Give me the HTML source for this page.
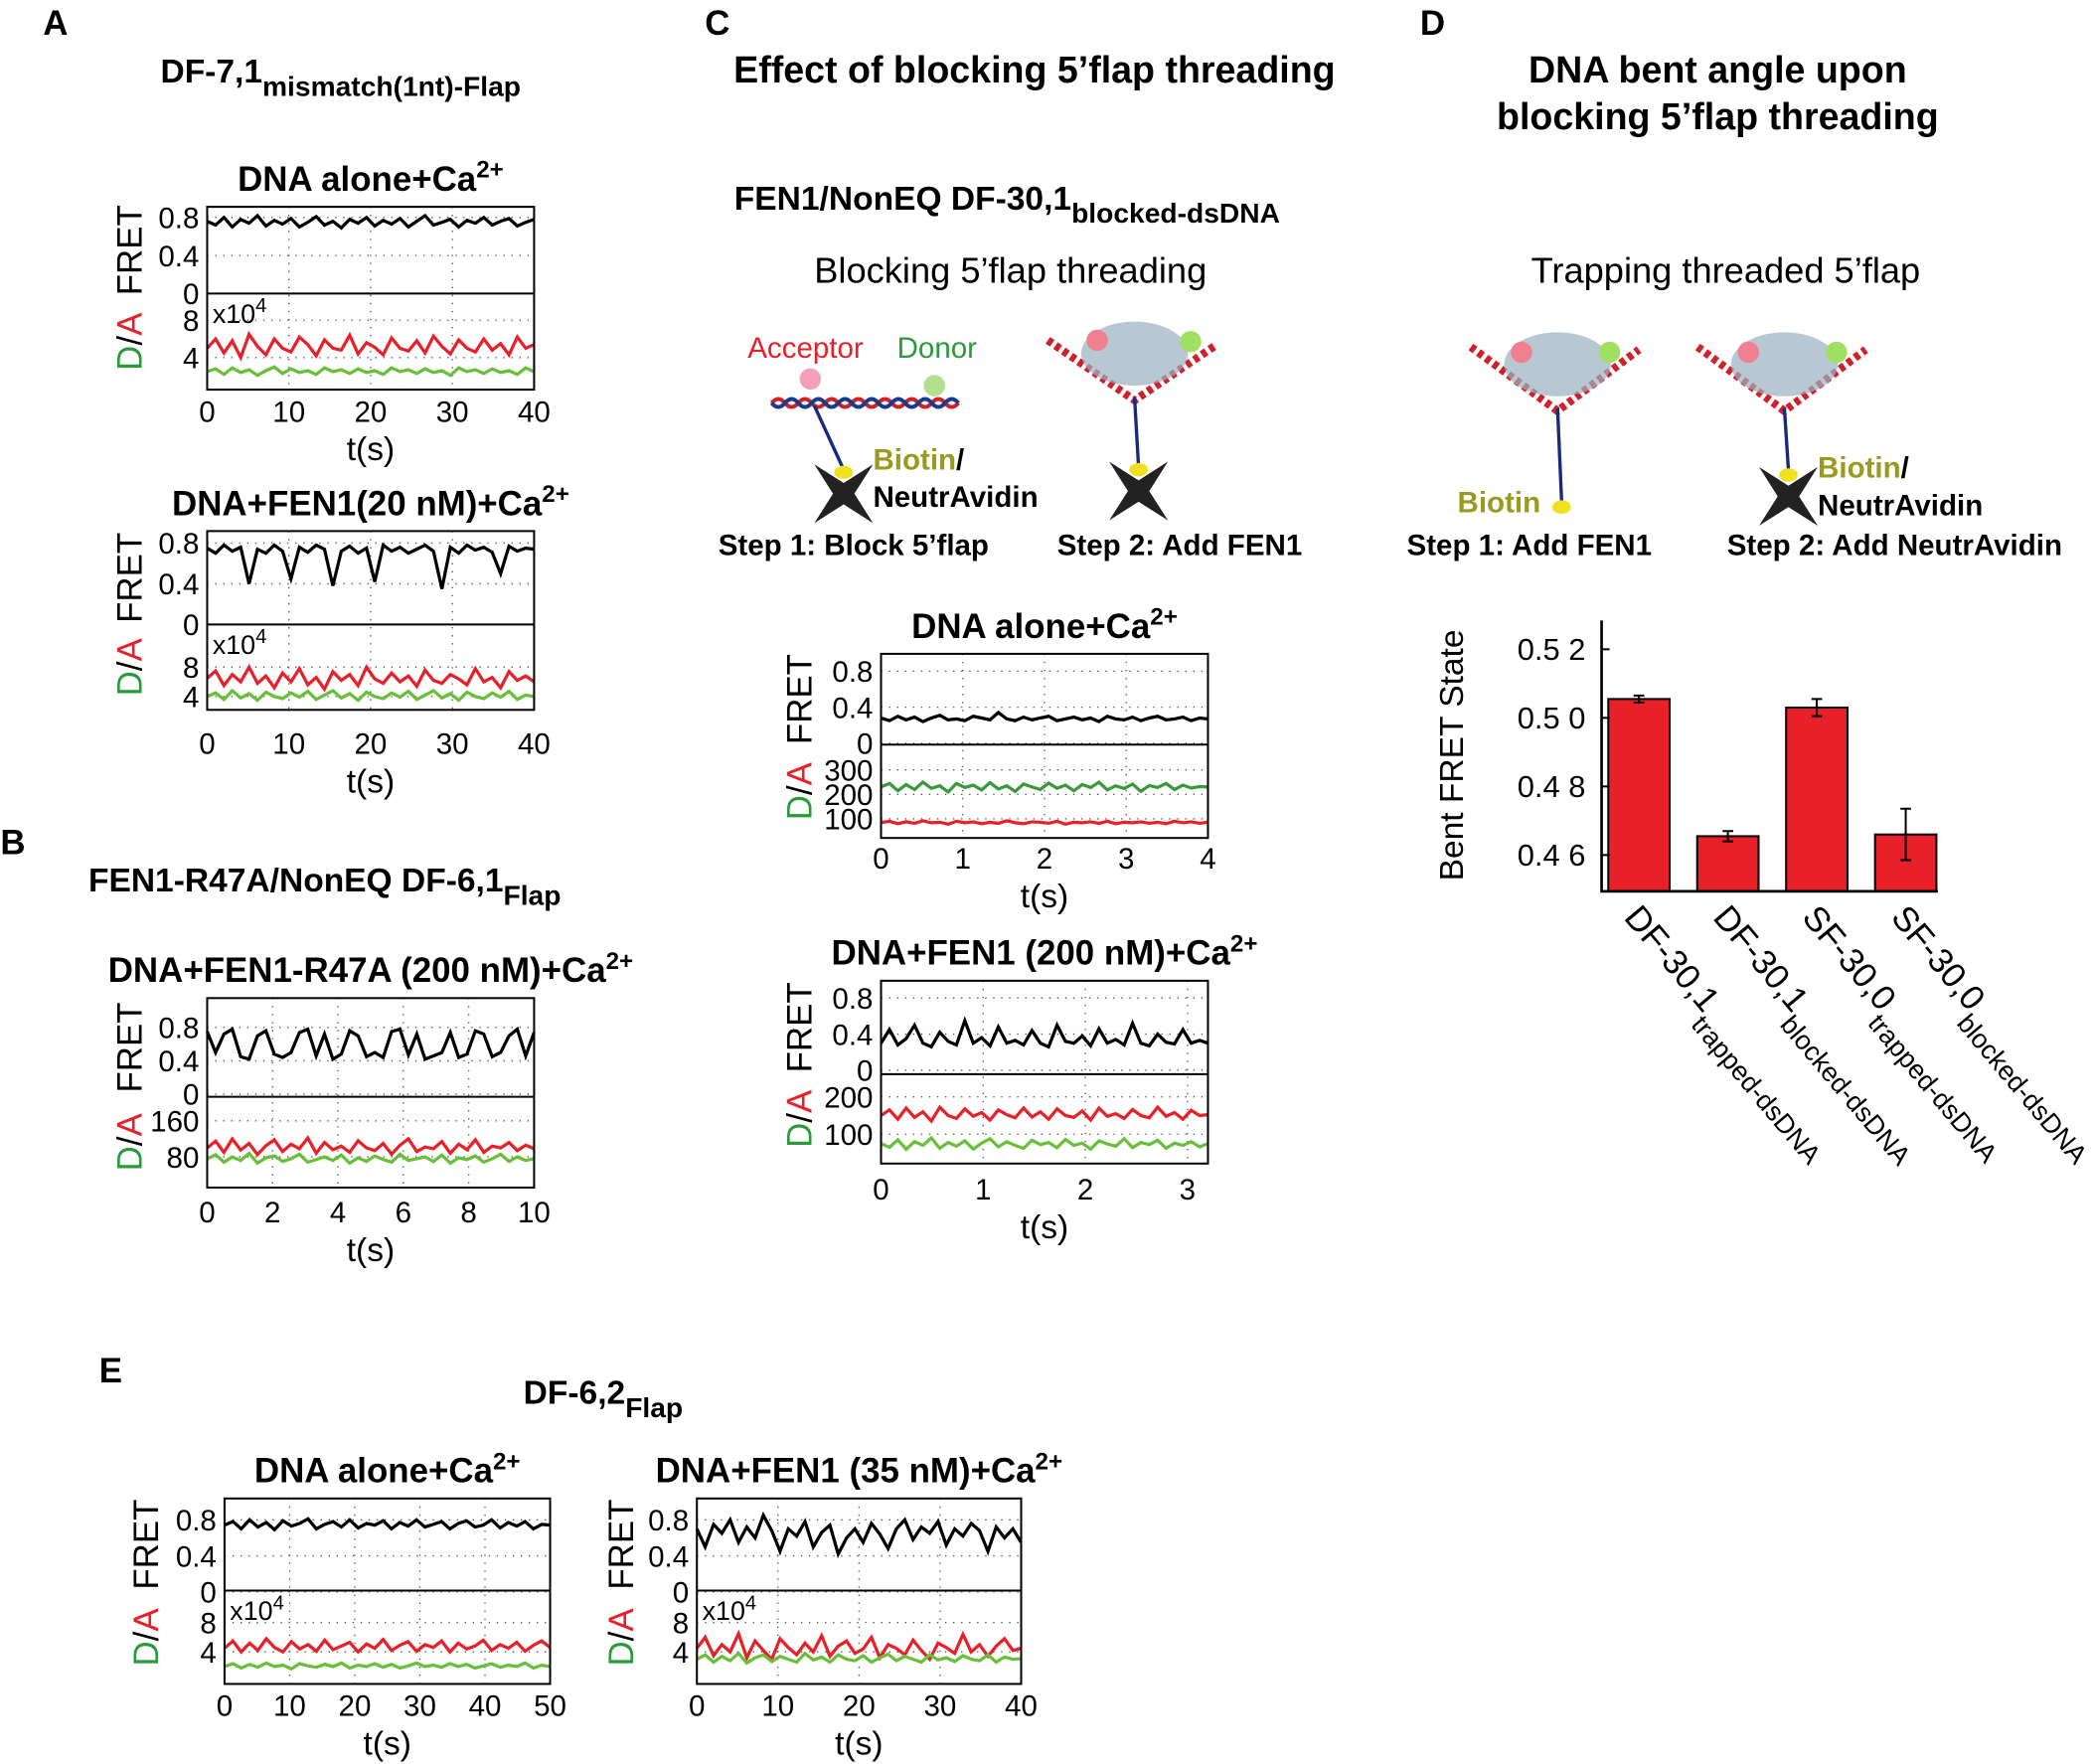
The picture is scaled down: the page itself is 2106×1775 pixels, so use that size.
<!DOCTYPE html>
<html><head><meta charset="utf-8"><style>
html,body{margin:0;padding:0;background:#fff}
svg{display:block}
text{font-family:"Liberation Sans",Arial,sans-serif}
.b{font-weight:bold}
</style></head><body>
<svg id="fig" width="2106" height="1775" viewBox="0 0 1568 1322" xmlns="http://www.w3.org/2000/svg">
<g id="static">
<text x="32" y="26" font-size="26" class="b">A</text>
<text x="0" y="640" font-size="26" class="b">B</text>
<text x="528" y="26" font-size="26" class="b">C</text>
<text x="1064" y="26" font-size="26" class="b">D</text>
<text x="74" y="1036" font-size="26" class="b">E</text>
<text x="120" y="62" font-size="25" class="b">DF-7,1<tspan font-size="21" dy="10">mismatch(1nt)-Flap</tspan></text>
<text x="66" y="668" font-size="25" class="b">FEN1-R47A/NonEQ DF-6,1<tspan font-size="21" dy="10">Flap</tspan></text>
<text x="775" y="62" font-size="28" class="b" text-anchor="middle">Effect of blocking 5’flap threading</text>
<text x="1287" y="62" font-size="28" class="b" text-anchor="middle">DNA bent angle upon</text>
<text x="1287" y="97" font-size="28" class="b" text-anchor="middle">blocking 5’flap threading</text>
<text x="550" y="157" font-size="25" class="b">FEN1/NonEQ DF-30,1<tspan font-size="21" dy="10">blocked-dsDNA</tspan></text>
<text x="757" y="212" font-size="27" text-anchor="middle">Blocking 5’flap threading</text>
<text x="1293" y="212" font-size="27" text-anchor="middle">Trapping threaded 5’flap</text>
<text x="392" y="1052" font-size="25" class="b">DF-6,2<tspan font-size="21" dy="10">Flap</tspan></text>
<g>
<text x="560" y="268" font-size="22" fill="#e8202a">Acceptor</text>
<text x="672" y="268" font-size="22" fill="#2a9a3a">Donor</text>
<path d="M578 302 q5 -6 10 0 q5 6 10 0 q5 -6 10 0 q5 6 10 0 q5 -6 10 0 q5 6 10 0 q5 -6 10 0 q5 6 10 0 q5 -6 10 0 q5 6 10 0 q5 -6 10 0 q5 6 10 0 q5 -6 10 0 q5 6 10 0" fill="none" stroke="#d0202a" stroke-width="3"/>
<path d="M578 302 q5 6 10 0 q5 -6 10 0 q5 6 10 0 q5 -6 10 0 q5 6 10 0 q5 -6 10 0 q5 6 10 0 q5 -6 10 0 q5 6 10 0 q5 -6 10 0 q5 6 10 0 q5 -6 10 0 q5 6 10 0 q5 -6 10 0" fill="none" stroke="#1a3a8a" stroke-width="3"/>
<circle cx="607" cy="284" r="8" fill="#f3a0b8"/><circle cx="700" cy="289" r="8" fill="#b0e090"/>
<line x1="610" y1="304" x2="632" y2="352" stroke="#1a2a7a" stroke-width="2.5"/>
<path d="M610 348 L632 362 L654 348 L640 370 L654 392 L632 378 L610 392 L624 370 Z" fill="#222"/>
<ellipse cx="632" cy="354" rx="7" ry="5" fill="#f0e020"/>
<text x="654" y="352" font-size="22" class="b" fill="#9a9a20">Biotin<tspan fill="#000">/</tspan></text>
<text x="654" y="380" font-size="22" class="b">NeutrAvidin</text>
<text x="538" y="416" font-size="22" class="b">Step 1: Block 5’flap</text>
</g>
<g>
<path d="M785 255 L850 300 L912 258" fill="none" stroke="#d0202a" stroke-width="6" stroke-dasharray="4 3"/>
<ellipse cx="850" cy="265" rx="40" ry="24" fill="#9ab0c0" opacity="0.7"/>
<circle cx="822" cy="255" r="8" fill="#f08090"/><circle cx="892" cy="256" r="8" fill="#a0e060"/>
<line x1="850" y1="298" x2="853" y2="350" stroke="#1a2a7a" stroke-width="2.5"/>
<path d="M831 346 L853 360 L875 346 L861 368 L875 390 L853 376 L831 390 L845 368 Z" fill="#222"/>
<ellipse cx="853" cy="352" rx="7" ry="5" fill="#f0e020"/>
<text x="792" y="416" font-size="22" class="b">Step 2: Add FEN1</text>
</g>
<g>
<path d="M1102 260 L1167 308 L1228 262" fill="none" stroke="#d0202a" stroke-width="6" stroke-dasharray="4 3"/>
<ellipse cx="1167" cy="273" rx="40" ry="24" fill="#9ab0c0" opacity="0.7"/>
<circle cx="1140" cy="264" r="8" fill="#f08090"/><circle cx="1206" cy="264" r="8" fill="#a0e060"/>
<line x1="1167" y1="306" x2="1170" y2="375" stroke="#1a2a7a" stroke-width="2.5"/>
<ellipse cx="1170" cy="380" rx="7" ry="5" fill="#f0e020"/>
<text x="1092" y="384" font-size="22" class="b" fill="#9a9a20">Biotin</text>
<text x="1054" y="416" font-size="22" class="b">Step 1: Add FEN1</text>
</g>
<g>
<path d="M1272 260 L1337 308 L1398 262" fill="none" stroke="#d0202a" stroke-width="6" stroke-dasharray="4 3"/>
<ellipse cx="1337" cy="273" rx="40" ry="24" fill="#9ab0c0" opacity="0.7"/>
<circle cx="1310" cy="264" r="8" fill="#f08090"/><circle cx="1376" cy="264" r="8" fill="#a0e060"/>
<line x1="1337" y1="306" x2="1340" y2="352" stroke="#1a2a7a" stroke-width="2.5"/>
<path d="M1318 350 L1340 364 L1362 350 L1348 372 L1362 394 L1340 380 L1318 394 L1332 372 Z" fill="#222"/>
<ellipse cx="1340" cy="356" rx="7" ry="5" fill="#f0e020"/>
<text x="1362" y="358" font-size="22" class="b" fill="#9a9a20">Biotin<tspan fill="#000">/</tspan></text>
<text x="1362" y="386" font-size="22" class="b">NeutrAvidin</text>
<text x="1294" y="416" font-size="22" class="b">Step 2: Add NeutrAvidin</text>
</g>
</g>
<g id="charts"></g>
</svg>
<script>
const a1Fret=[0.76,0.72,0.8,0.7,0.78,0.74,0.82,0.71,0.77,0.73,0.79,0.7,0.75,0.81,0.72,0.76,0.69,0.78,0.74,0.8,0.71,0.77,0.73,0.79,0.7,0.76,0.82,0.72,0.75,0.78,0.7,0.77,0.74,0.8,0.72,0.76,0.79,0.71,0.75,0.78];
const a1Red=[5,6,4.5,5.8,4,6.5,5.2,4.3,6,5,4.6,6.2,5.4,4.2,5.9,5,4.8,6.4,4.4,5.6,5.1,4.3,6.1,5,4.7,5.8,4.5,6.3,5.2,4.4,5.9,5,4.6,6,4.8,5.5,4.3,6.2,5,5.4];
const a1Green=[2.5,2.8,2.2,2.9,2.4,2.7,2.1,2.6,3,2.3,2.8,2.4,2.6,2.2,2.9,2.5,2.7,2.3,2.8,2.4,2.6,2.2,2.9,2.5,2.7,2.3,2.8,2.4,2.6,2.1,2.9,2.5,2.7,2.3,2.8,2.4,2.6,2.2,2.9,2.5];
const a2Fret=[0.75,0.7,0.78,0.72,0.76,0.4,0.74,0.7,0.78,0.72,0.45,0.76,0.71,0.78,0.74,0.38,0.72,0.77,0.7,0.75,0.42,0.78,0.72,0.76,0.7,0.74,0.78,0.72,0.35,0.76,0.7,0.78,0.73,0.76,0.71,0.5,0.77,0.72,0.75,0.74];
const a2Red=[6.5,7.5,5.5,7,6,8,5.8,6.8,5.2,7.2,6,7.8,5.6,6.6,5,7.4,6.2,7,5.5,8,6.4,5.8,7.2,6,6.8,5.4,7.6,6.2,5.8,7,6.4,5.6,7.8,6,6.6,5.2,7.4,6.2,6.8,6];
const a2Green=[4,4.5,3.6,4.8,3.8,4.4,3.5,4.6,4,3.7,4.5,3.9,4.7,3.6,4.2,4.8,3.8,4.4,3.5,4.6,4,3.7,4.5,3.9,4.7,3.6,4.2,4.8,3.8,4.4,3.5,4.6,4,3.7,4.5,3.9,4.7,3.6,4.2,4];
const bFret=[0.75,0.5,0.72,0.78,0.45,0.42,0.7,0.76,0.48,0.44,0.5,0.74,0.78,0.46,0.72,0.42,0.48,0.76,0.7,0.45,0.5,0.44,0.75,0.78,0.47,0.72,0.42,0.46,0.5,0.74,0.44,0.48,0.76,0.72,0.45,0.5,0.7,0.78,0.46,0.74];
const bRed=[100,115,90,120,95,110,85,105,118,92,108,98,122,88,112,96,104,90,116,100,94,110,86,106,120,92,102,98,114,88,108,96,118,90,104,100,112,94,106,98];
const bGreen=[75,85,68,80,72,88,66,78,82,70,76,86,68,74,80,72,84,66,78,70,82,74,68,86,72,76,80,70,84,66,78,74,82,68,76,86,70,80,72,76];
const c1Fret=[0.28,0.25,0.3,0.26,0.29,0.24,0.28,0.31,0.26,0.27,0.25,0.3,0.28,0.26,0.34,0.27,0.25,0.29,0.26,0.28,0.3,0.25,0.27,0.29,0.26,0.28,0.24,0.3,0.27,0.26,0.29,0.25,0.28,0.3,0.26,0.27,0.29,0.25,0.28,0.27];
const c1Green=[230,245,215,240,220,250,225,235,210,245,228,238,218,248,222,235,212,242,230,220,246,225,238,215,240,228,250,218,235,224,242,212,236,228,245,220,238,226,232,230];
const c1Red=[85,90,80,88,82,92,84,86,78,90,84,88,80,86,82,92,84,80,88,86,82,90,78,86,84,88,82,90,80,86,84,88,82,86,80,90,84,88,82,86];
const c2Fret=[0.3,0.45,0.28,0.35,0.5,0.3,0.26,0.42,0.32,0.28,0.55,0.3,0.36,0.27,0.48,0.3,0.33,0.28,0.44,0.3,0.26,0.5,0.32,0.3,0.38,0.27,0.46,0.3,0.34,0.28,0.52,0.3,0.27,0.4,0.31,0.29,0.45,0.3,0.33,0.3];
const c2Red=[150,165,140,170,145,160,135,172,150,142,168,148,158,138,165,152,144,170,146,160,140,168,150,145,162,138,170,148,155,142,166,150,144,172,148,158,140,164,150,152];
const c2Green=[75,65,85,60,80,70,90,62,78,68,82,60,76,88,66,80,70,62,84,72,78,64,86,70,76,60,82,74,68,88,64,78,72,84,62,76,70,80,66,75];
const e1Fret=[0.74,0.78,0.7,0.8,0.72,0.77,0.69,0.79,0.73,0.76,0.81,0.7,0.75,0.78,0.72,0.8,0.71,0.76,0.74,0.79,0.7,0.77,0.73,0.8,0.72,0.75,0.78,0.7,0.76,0.79,0.72,0.74,0.8,0.71,0.77,0.73,0.78,0.7,0.75,0.74];
const e1Red=[4.5,5.5,4,5.2,4.2,5.8,4.6,4,5.4,4.4,5,4.1,5.6,4.3,4.8,5.3,4,5.1,4.5,5.7,4.2,4.9,5.4,4.1,5,4.6,5.5,4,5.2,4.4,4.8,5.6,4.2,5,4.5,5.3,4.1,4.9,5.5,4.6];
const e1Green=[2,2.4,1.8,2.3,1.9,2.5,2,2.2,1.7,2.4,2.1,1.9,2.3,2,2.5,1.8,2.2,2,2.4,1.9,2.3,1.8,2.1,2.5,2,2.2,1.9,2.4,2,2.3,1.8,2.1,2.4,1.9,2.2,2,2.5,1.8,2.2,2];
const e2Fret=[0.7,0.5,0.75,0.65,0.8,0.55,0.72,0.6,0.85,0.68,0.45,0.7,0.62,0.78,0.5,0.66,0.74,0.42,0.6,0.7,0.55,0.76,0.64,0.48,0.7,0.8,0.58,0.72,0.65,0.78,0.52,0.7,0.62,0.76,0.68,0.45,0.72,0.6,0.7,0.55];
const e2Red=[4.5,6,3.5,5,4,6.5,3.2,5.5,4.2,3,5.8,4.6,3.6,5.2,4,6.2,3.4,4.8,5.5,3.8,4.4,6,3.2,5,4.5,3.6,5.6,4.2,3,5.2,4.6,3.8,6.4,4,5,3.4,4.8,5.8,4.2,4.5];
const e2Green=[3,3.6,2.6,3.4,2.8,3.8,2.5,3.2,3.6,2.7,3.4,3,2.6,3.8,2.9,3.3,2.6,3.6,3,2.8,3.5,2.6,3.2,3.7,2.8,3.4,3,2.6,3.6,2.9,3.2,2.7,3.5,3,2.8,3.6,2.6,3.3,3,3.1];
const barCats=["DF-30,1","DF-30,1","SF-30,0","SF-30,0"];
const barSubs=["trapped-dsDNA","blocked-dsDNA","trapped-dsDNA","blocked-dsDNA"];
const barVals=[0.5055,0.4655,0.503,0.466];
const barErrs=[0.001,0.0015,0.0025,0.0075];
const barTicks=[0.46,0.48,0.50,0.52];
const barTickLabels=["0.4 6","0.4 8","0.5 0","0.5 2"];

const NS="http://www.w3.org/2000/svg";
const root=document.getElementById('charts');
function mk(tag,attrs,parent){const e=document.createElementNS(NS,tag);for(const k in attrs)e.setAttribute(k,attrs[k]);(parent||root).appendChild(e);return e;}
function txt(x,y,s,size,parent,extra){const e=mk('text',Object.assign({x:x,y:y,'font-size':size},extra||{}),parent);e.textContent=s;return e;}

function panel(name,cfg){
  const g=mk('g',{});
  
  
  const x0=cfg.x0,x1=cfg.x1;
  const xs=v=>x0+(v-cfg.xmin)/(cfg.xmax-cfg.xmin)*(x1-x0);
  const yf=v=>cfg.f0+(v-cfg.fmin)/(cfg.fmax-cfg.fmin)*(cfg.f1-cfg.f0);
  const yd=v=>cfg.d0+(v-cfg.dmin)/(cfg.dmax-cfg.dmin)*(cfg.d1-cfg.d0);
  cfg.xticks.forEach(t=>{mk('line',{x1:xs(t),x2:xs(t),y1:cfg.top,y2:cfg.bot,stroke:'#555','stroke-width':1,'stroke-dasharray':'1 5'},g);});
  cfg.fticks.forEach(t=>{mk('line',{x1:x0,x2:x1,y1:yf(t),y2:yf(t),stroke:'#555','stroke-width':1,'stroke-dasharray':'1 5'},g);});
  cfg.dticks.forEach(t=>{mk('line',{x1:x0,x2:x1,y1:yd(t),y2:yd(t),stroke:'#555','stroke-width':1,'stroke-dasharray':'1 5'},g);});
  function trace(arr,scale,color,nm){
    const pts=arr.map((v,i)=>{const t=cfg.xmin+(cfg.xmax-cfg.xmin)*i/(arr.length-1);return xs(t).toFixed(1)+','+scale(v).toFixed(1);}).join(' ');
    const p=mk('polyline',{points:pts,fill:'none',stroke:color,'stroke-width':2.4},g);
    
    
  }
  cfg.dSeries.forEach(s=>trace(s.v,yd,s.c,s.n));
  trace(cfg.fret,yf,'#000','fret-trace');
  mk('rect',{x:x0,y:cfg.top,width:x1-x0,height:cfg.bot-cfg.top,fill:'none',stroke:'#000','stroke-width':1.5},g);
  mk('line',{x1:x0,x2:x1,y1:cfg.mid,y2:cfg.mid,stroke:'#000','stroke-width':1.5},g);
  cfg.fticks.forEach(t=>txt(x0-6,yf(t)+8,String(t),22,g,{'text-anchor':'end'}));
  cfg.dticks.forEach(t=>txt(x0-6,yd(t)+8,String(t),22,g,{'text-anchor':'end'}));
  cfg.xticks.forEach(t=>txt(xs(t),cfg.bot+cfg.xlabOff,String(t),22,g,{'text-anchor':'middle'}));
  txt((x0+x1)/2,cfg.bot+cfg.xlabOff+29,'t(s)',25,g,{'text-anchor':'middle'});
  if(cfg.exp) {const e=txt(x0+4,cfg.mid+22,'x10',20,g);const s=mk('tspan',{dy:-8,'font-size':15},e);s.textContent='4';}
  txt(0,0,'FRET',26,g,{'text-anchor':'middle',transform:`translate(${cfg.ylabX},${(cfg.top+cfg.mid)/2}) rotate(-90)`});
  const dl=mk('text',{'font-size':26,'text-anchor':'middle',transform:`translate(${cfg.ylabX},${(cfg.mid+cfg.bot)/2}) rotate(-90)`},g);
  const t1=mk('tspan',{fill:'#2a9a3a'},dl);t1.textContent='D';
  const t2=mk('tspan',{fill:'#000'},dl);t2.textContent='/';
  const t3=mk('tspan',{fill:'#e8202a'},dl);t3.textContent='A';
  const tt=txt((x0+x1)/2,cfg.top-12,cfg.title,26,g,{'text-anchor':'middle','font-weight':'bold'});
  const sup=mk('tspan',{dy:-10,'font-size':18},tt);sup.textContent='2+';
}
const R='#e8202a',G='#6abf3a';
panel('panel-a1-dna-alone',{title:'DNA alone+Ca',x0:155,x1:400,top:155,mid:220,bot:292,xmin:0,xmax:40,xticks:[0,10,20,30,40],
  f0:220,f1:163,fmin:0,fmax:0.8,fticks:[0,0.4,0.8],d0:296,d1:240,dmin:0,dmax:8,dticks:[4,8],exp:true,
  fret:a1Fret,dSeries:[{v:a1Red,c:R,n:'acceptor-trace'},{v:a1Green,c:G,n:'donor-trace'}],xlabOff:24,ylabX:106});
panel('panel-a2-dna-fen1',{title:'DNA+FEN1(20 nM)+Ca',x0:155,x1:400,top:398,mid:468,bot:532,xmin:0,xmax:40,xticks:[0,10,20,30,40],
  f0:468,f1:407,fmin:0,fmax:0.8,fticks:[0,0.4,0.8],d0:544,d1:500,dmin:0,dmax:8,dticks:[4,8],exp:true,
  fret:a2Fret,dSeries:[{v:a2Red,c:R,n:'acceptor-trace'},{v:a2Green,c:G,n:'donor-trace'}],xlabOff:33,ylabX:106});
panel('panel-b-r47a',{title:'DNA+FEN1-R47A (200 nM)+Ca',x0:155,x1:400,top:748,mid:822,bot:890,xmin:0,xmax:10,xticks:[0,2,4,6,8,10],
  f0:820,f1:770,fmin:0,fmax:0.8,fticks:[0,0.4,0.8],d0:894,d1:840,dmin:0,dmax:160,dticks:[80,160],
  fret:bFret,dSeries:[{v:bRed,c:R,n:'acceptor-trace'},{v:bGreen,c:G,n:'donor-trace'}],xlabOff:26,ylabX:106});
panel('panel-c1-dna-alone',{title:'DNA alone+Ca',x0:660,x1:905,top:490,mid:558,bot:628,xmin:0,xmax:4,xticks:[0,1,2,3,4],
  f0:557,f1:503,fmin:0,fmax:0.8,fticks:[0,0.4,0.8],d0:632,d1:577,dmin:0,dmax:300,dticks:[100,200,300],
  fret:c1Fret,dSeries:[{v:c1Green,c:'#3a9a3a',n:'donor-trace'},{v:c1Red,c:R,n:'acceptor-trace'}],xlabOff:23,ylabX:608});
panel('panel-c2-dna-fen1',{title:'DNA+FEN1 (200 nM)+Ca',x0:660,x1:905,top:735,mid:805,bot:872,xmin:0,xmax:3.2,xticks:[0,1,2,3],
  f0:802,f1:748,fmin:0,fmax:0.8,fticks:[0,0.4,0.8],d0:878,d1:822,dmin:0,dmax:200,dticks:[100,200],
  fret:c2Fret,dSeries:[{v:c2Red,c:R,n:'acceptor-trace'},{v:c2Green,c:G,n:'donor-trace'}],xlabOff:27,ylabX:608});
panel('panel-e1-dna-alone',{title:'DNA alone+Ca',x0:168,x1:412,top:1123,mid:1192,bot:1262,xmin:0,xmax:50,xticks:[0,10,20,30,40,50],
  f0:1193,f1:1139,fmin:0,fmax:0.8,fticks:[0,0.4,0.8],d0:1260,d1:1216,dmin:0,dmax:8,dticks:[4,8],exp:true,
  fret:e1Fret,dSeries:[{v:e1Red,c:R,n:'acceptor-trace'},{v:e1Green,c:G,n:'donor-trace'}],xlabOff:24,ylabX:118});
panel('panel-e2-dna-fen1',{title:'DNA+FEN1 (35 nM)+Ca',x0:522,x1:765,top:1123,mid:1192,bot:1262,xmin:0,xmax:40,xticks:[0,10,20,30,40],
  f0:1193,f1:1139,fmin:0,fmax:0.8,fticks:[0,0.4,0.8],d0:1260,d1:1216,dmin:0,dmax:8,dticks:[4,8],exp:true,
  fret:e2Fret,dSeries:[{v:e2Red,c:R,n:'acceptor-trace'},{v:e2Green,c:G,n:'donor-trace'}],xlabOff:24,ylabX:474});

(function(){
  const g=mk('g',{});
  
  
  const X0=1200,X1=1452,Y0=465,Y1=668;
  const y=v=>538-(v-0.50)*2570;
  const xc=i=>X0+28+i*(X1-X0-56)/3*1.02;
  barVals.forEach((v,i)=>{
    const r=mk('rect',{x:xc(i)-23,y:y(v),width:46,height:Y1-y(v),fill:'#e8202a',stroke:'#000','stroke-width':1.5},g);
    
    
    const e=mk('path',{d:`M${xc(i)} ${y(v+barErrs[i])} V${y(v-barErrs[i])} M${xc(i)-4} ${y(v+barErrs[i])} h8 M${xc(i)-4} ${y(v-barErrs[i])} h8`,stroke:'#000','stroke-width':1.5,fill:'none'},g);
    
    
    const lab=mk('text',{'font-size':26,transform:`translate(${xc(i)-12},${Y1+20}) rotate(50)`},g);
    lab.textContent=barCats[i];
    const sub=mk('tspan',{'font-size':20,dy:13},lab);sub.textContent=barSubs[i];
  });
  mk('path',{d:`M${X0} ${Y0} V${Y1} H${X1}`,stroke:'#000','stroke-width':2,fill:'none'},g);
  barTicks.forEach((t,i)=>{
    mk('line',{x1:X0,x2:X0+6,y1:y(t),y2:y(t),stroke:'#000','stroke-width':1.5},g);
    txt(X0-12,y(t)+8,barTickLabels[i],23,g,{'text-anchor':'end'});
  });
  txt(0,0,'Bent FRET State',25,g,{'text-anchor':'middle',transform:`translate(1096,566) rotate(-90)`});
})();
</script>
</body></html>
